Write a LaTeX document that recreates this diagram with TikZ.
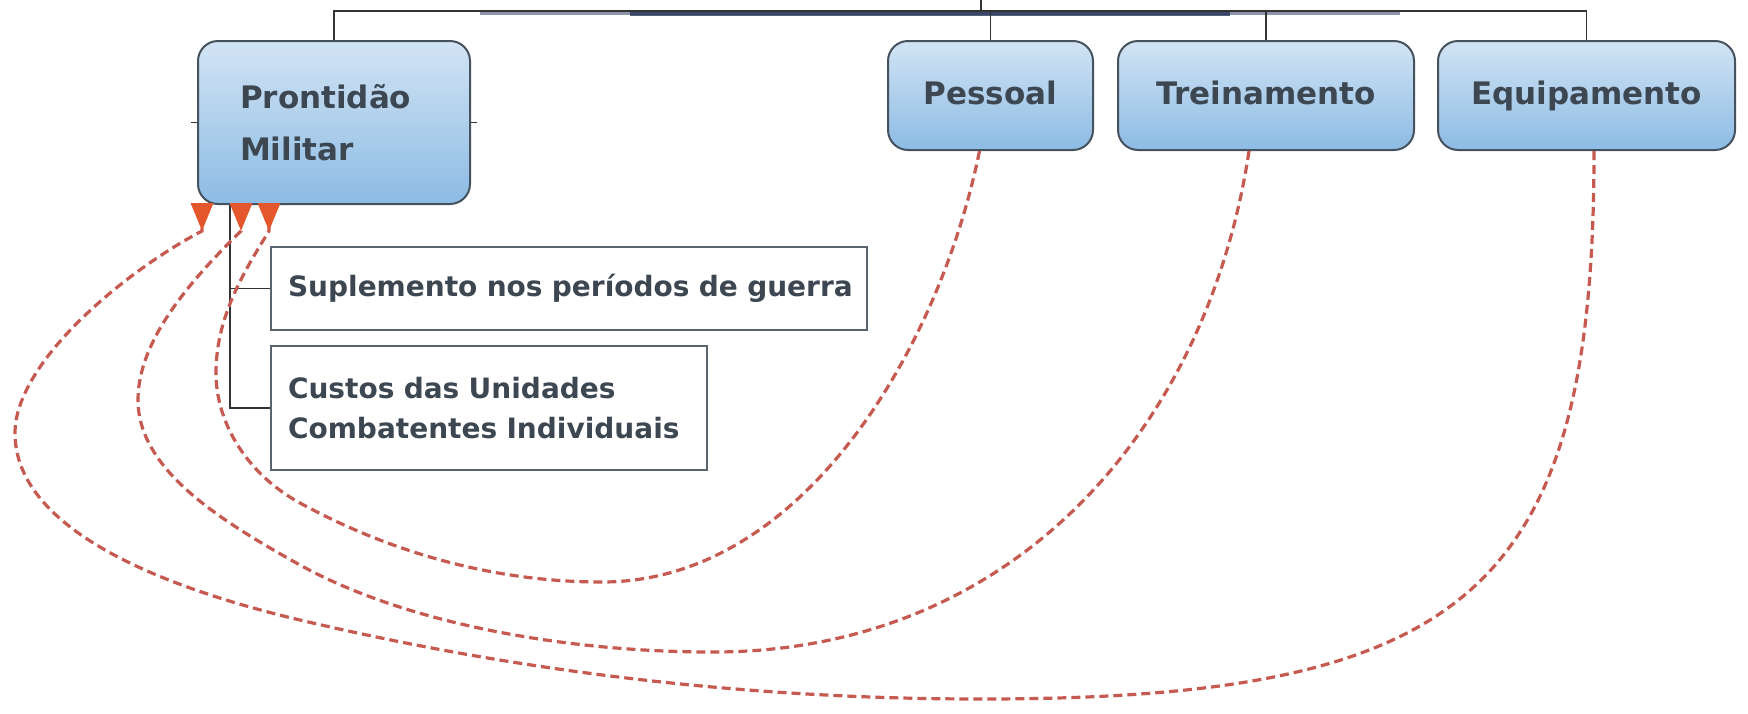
\documentclass[tikz,border=0pt]{standalone}
\usepackage{fontspec}
\setmainfont{DejaVu Sans}
\usetikzlibrary{arrows.meta}
\definecolor{boxtop}{HTML}{D2E4F4}
\definecolor{boxbot}{HTML}{8CBBE4}
\definecolor{boxline}{HTML}{46535F}
\definecolor{labeltext}{HTML}{3C4752}
\definecolor{dashred}{HTML}{C65A50}
\definecolor{tipred}{HTML}{E4572C}
\definecolor{navy}{HTML}{1C2B52}
\begin{document}
\begin{tikzpicture}[x=0.5pt,y=-0.5pt,
  mainbox/.style={draw=boxline, line width=1pt, rounded corners=10pt,
    top color=boxtop, bottom color=boxbot, text=labeltext,
    font=\bfseries\fontsize{15.5}{26}\selectfont, inner sep=0pt},
  onelabel/.style={text height=11.5pt, text depth=3pt},
  subbox/.style={draw=boxline!90, line width=0.9pt, fill=white, text=labeltext,
    font=\bfseries\fontsize{14}{20}\selectfont, inner ysep=0pt, inner xsep=8.5pt,
    align=left},
  treeline/.style={draw=black!80, line width=0.7pt},
  feedback/.style={draw=dashred, line width=1.6pt, dash pattern=on 4.5pt off 2.5pt,
    -{Triangle[reversed,length=14pt,width=11pt,color=tipred]}}
]
\useasboundingbox (0,0) rectangle (1748,713);

% main boxes
\node[mainbox, minimum width=136pt, minimum height=81.5pt, inner xsep=21pt,
      text width=94pt, align=left] (pm) at (334,122.5) {Prontidão\\Militar};
\node[mainbox, onelabel, minimum width=102.5pt, minimum height=54.5pt] (pes) at (990.5,95.5) {Pessoal};
\node[mainbox, onelabel, minimum width=148pt, minimum height=54.5pt] (tr) at (1266,95.5) {Treinamento};
\node[mainbox, onelabel, minimum width=148.5pt, minimum height=54.5pt] (eq) at (1586.5,95.5) {Equipamento};

% sub boxes
\node[subbox, minimum width=298pt, minimum height=41.5pt, text width=281pt] (sup) at (569,288.5)
  {\mbox{Suplemento nos períodos de guerra}};
\node[subbox, minimum width=218pt, minimum height=62pt, text width=201pt] (cus) at (489,408)
  {Custos das Unidades\\Combatentes Individuais};

% top bus
\coordinate (bus) at (981,11);
\coordinate (bustop) at (981,0);
\draw[navy, line width=2pt, opacity=0.5] (480,12.5) -- (1400,12.5);
\draw[navy, line width=3pt, opacity=0.75] (630,13) -- (1230,13);
\draw[treeline] (pm.north) |- (bus) -| (eq.north);
\draw[treeline] (pes.north) |- (bus);
\draw[treeline] (tr.north) |- (bus);
\draw[treeline] (bus) -- (bustop);

% ticks on main box
\draw[treeline] (pm.west) -- ++(-6,0);
\draw[treeline] (pm.east) -- ++(6,0);

% tree to sub boxes
\coordinate (tx) at ([xshift=16.5pt]pm.south west);
\draw[treeline] (tx) |- (sup.west);
\draw[treeline] (tx) |- (cus.west);

% arrow bases and apexes under the main box
\coordinate (bE) at ([xshift=2.5pt,yshift=1pt]pm.south west);
\coordinate (aE) at ([xshift=2.5pt,yshift=-13pt]pm.south west);
\coordinate (bT) at ([xshift=22pt,yshift=1pt]pm.south west);
\coordinate (aT) at ([xshift=22pt,yshift=-13pt]pm.south west);
\coordinate (bP) at ([xshift=36pt,yshift=1pt]pm.south west);
\coordinate (aP) at ([xshift=36pt,yshift=-13pt]pm.south west);

% feedback curves
\draw[feedback] ([xshift=3.75pt]eq.south)
  .. controls (1594,589) and (1471,699) .. (981,699)
  .. controls (751,699) and (524,673) .. (300,620)
  .. controls (173.5,590) and (15,533) .. (15,433)
  .. controls (15,363) and (123,272.5) .. (aE) -- (bE);
\draw[feedback] ([xshift=-8.5pt]tr.south)
  .. controls (1207,430) and (1013,652) .. (713,652)
  .. controls (563,652) and (405,623) .. (300,565)
  .. controls (221,521) and (138,470) .. (138,400)
  .. controls (138,340) and (191,280) .. (aT) -- (bT);
\draw[feedback] ([xshift=-5.5pt]pes.south)
  .. controls (939,350) and (802,582) .. (602,582)
  .. controls (482,582) and (379,546) .. (300,503)
  .. controls (247,474) and (216,423) .. (216,373)
  .. controls (216,318) and (242.5,274) .. (aP) -- (bP);
\end{tikzpicture}
\end{document}
